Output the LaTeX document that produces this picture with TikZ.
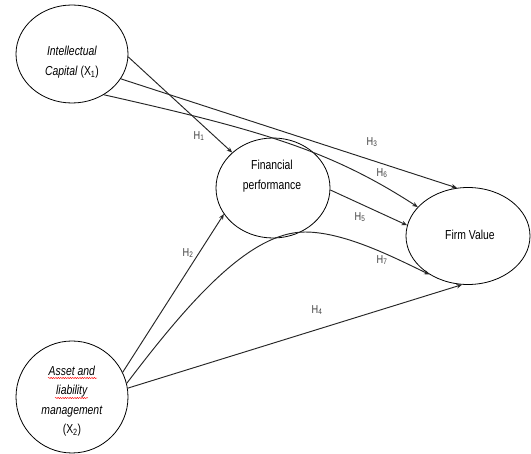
\documentclass[tikz,border=0pt]{standalone}
\usepackage{fontspec}
\setmainfont{Liberation Sans}[FakeStretch=0.8]
\usetikzlibrary{shapes.geometric,arrows.meta,decorations.pathmorphing}
\begin{document}
\begin{tikzpicture}[x=1pt,y=-1pt,
  var/.style={draw, ellipse, inner sep=0pt, line width=0.8pt},
  txt/.style={align=center, inner sep=0pt, font=\fontsize{13}{19.5}\selectfont},
  hyp/.style={font=\fontsize{11.5}{13}\selectfont, inner sep=0pt, text=black!75},
  link/.style={draw, line width=0.95pt, black!85, -{Stealth[length=5.5pt,width=4.5pt]}},
  spell/.style={draw=red, line width=0.45pt, decorate, decoration={snake, amplitude=0.6pt, segment length=2.4pt}}
]
\useasboundingbox (0,0) rectangle (531,454);
% variables
\node[var, minimum width=112pt, minimum height=98pt] (IC) at (72,54) {};
\node[var, minimum width=114pt, minimum height=100pt] (FP) at (273,188) {};
\node[var, minimum width=124pt, minimum height=97pt] (FV) at (468,236) {};
\node[var, minimum width=112pt, minimum height=112pt] (AL) at (72,397) {};
% texts
\node[txt] (ICt) at (72,62) {\textit{Intellectual}\\\textit{Capital} (X\textsubscript{1})};
\node[txt] (FPt) at (272,176) {Financial\\performance};
\node[txt] (FVt) at (470,235) {Firm Value};
\node[txt] (ALt) at (72,401) {\textit{Asset and}\\\textit{liability}\\\textit{management}\\(X\textsubscript{2})};
\draw[spell] (48,378) -- (97,378);
\draw[spell] (55,398) -- (88,398);
% connectors
\draw[link] (IC.-3) -- (FP.139);
\draw[link] (IC.-27) -- (FV.103);
\draw[link] (IC.-52) .. controls (260,130) and (330,150) .. (FV.150);
\draw[link] (FP.-2) -- (FV.170);
\draw[link] (AL.26) -- (FP.208);
\draw[link] (AL.14) .. controls (190,300) and (250,232) .. (305,232) .. controls (345,232) and (395,258) .. (FV.225);
\draw[link] (AL.9) -- (FV.263);
% labels
\node[hyp] (h1) at (199,136) {H\textsubscript{1}};
\node[hyp] (h2) at (188,253) {H\textsubscript{2}};
\node[hyp] (h3) at (372,142) {H\textsubscript{3}};
\node[hyp] (h4) at (317,310) {H\textsubscript{4}};
\node[hyp] (h5) at (360,217) {H\textsubscript{5}};
\node[hyp] (h6) at (382,173) {H\textsubscript{6}};
\node[hyp] (h7) at (382,260) {H\textsubscript{7}};
\end{tikzpicture}
\end{document}
